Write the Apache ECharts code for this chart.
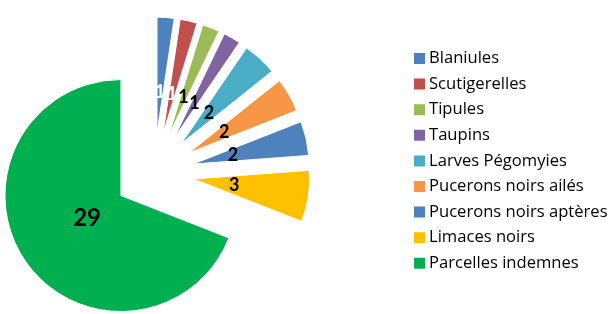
<!DOCTYPE html>
<html>
<head>
<meta charset="utf-8">
<script src="https://cdn.jsdelivr.net/npm/echarts@6/dist/echarts.min.js"></script>
<style>
html,body{margin:0;padding:0;background:#fff;}
#chart{width:611px;height:314px;}
</style>
</head>
<body>
<div id="chart"></div>
<script>
const categories = ['Blaniules','Scutigerelles','Tipules','Taupins','Larves Pégomyies','Pucerons noirs ailés','Pucerons noirs aptères','Limaces noirs','Parcelles indemnes'];
const values = [1,1,1,1,2,2,2,3,29];
const colors = ['#4F81BD','#C0504D','#9BBB59','#8064A2','#4BACC6','#F79646','#4F81BD','#FFC000','#00B050'];
const labelColors = ['#ffffff','#ffffff','#000000','#000000','#000000','#000000','#000000','#000000','#000000'];

const FONT = 'Open Sans';
const LABEL_FONT = 'Lato';
const center = [154, 173];
const R = 116;
const OFFSET = 40;

const sliceData = categories.map((c, i) => ({
  name: c, value: values[i], selected: true,
  itemStyle: { color: colors[i] }
}));
const labelData = categories.map((c, i) => ({
  name: c, value: values[i], selected: true,
  label: { color: labelColors[i], fontSize: i === 8 ? 24 : 18 }
}));

const chart = echarts.init(document.getElementById('chart'), null, {renderer: 'canvas'});
chart.setOption({
  animation: false,
  color: colors,
  legend: {
    orient: 'vertical',
    left: 412,
    top: 50,
    itemWidth: 13,
    itemHeight: 13,
    itemGap: 8.6,
    padding: 0,
    icon: 'rect',
    selectedMode: false,
    textStyle: { fontFamily: FONT, fontSize: 16.6, color: '#000', lineHeight: 16, padding: [0,0,0,-2] },
    data: categories
  },
  series: [
    {
      type: 'pie',
      center: center,
      radius: [0, R],
      startAngle: 90,
      clockwise: true,
      selectedMode: 'multiple',
      selectedOffset: OFFSET,
      silent: true,
      avoidLabelOverlap: false,
      label: { show: false },
      labelLine: { show: false },
      itemStyle: { borderColor: '#ffffff', borderWidth: 1 },
      emphasis: { disabled: true },
      data: sliceData
    },
    {
      type: 'pie',
      center: center,
      radius: [0, 76],
      startAngle: 90,
      clockwise: true,
      selectedMode: 'multiple',
      selectedOffset: OFFSET,
      silent: true,
      avoidLabelOverlap: false,
      labelLayout: { hideOverlap: false },
      itemStyle: { color: 'rgba(0,0,0,0)', borderWidth: 0 },
      labelLine: { show: false },
      label: {
        show: true,
        position: 'inside',
        formatter: '{c}',
        fontFamily: LABEL_FONT,
        fontWeight: 'bold',
        fontSize: 18,
        overflow: 'none'
      },
      emphasis: { disabled: true },
      data: labelData
    }
  ]
});
</script>
</body>
</html>
